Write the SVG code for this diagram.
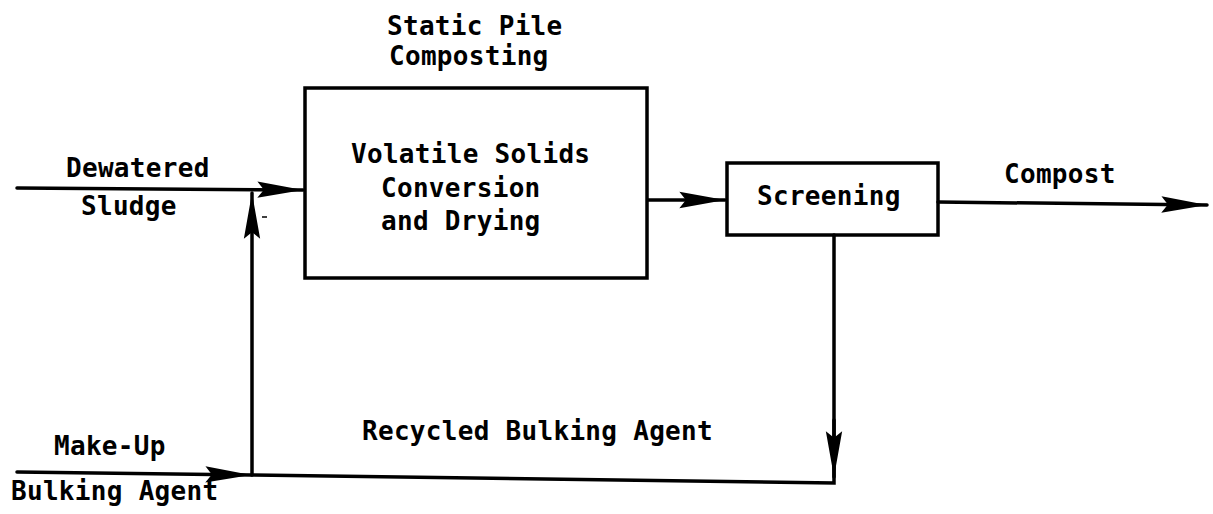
<svg xmlns="http://www.w3.org/2000/svg" width="1213" height="514" viewBox="0 0 1213 514">
<style>
  .t{font-family:"DejaVu Sans Mono","Liberation Mono",monospace;font-size:26px;font-weight:bold;letter-spacing:0.3px;fill:#000}
  .box{fill:#fff;stroke:#000;stroke-width:3.5}
  .ln{fill:none;stroke:#000;stroke-width:3.5;stroke-linecap:round}
</style>
<defs>
  <marker id="ah" markerUnits="userSpaceOnUse" markerWidth="50" markerHeight="22" viewBox="-44 -10 46 20" refX="0" refY="0" orient="auto">
    <path d="M0,0 L-42,-7.5 L-36,0 L-42,7.5 Z" fill="#000"/>
  </marker>
</defs>
<rect width="1213" height="514" fill="#fff"/>
<g id="title">
  <text class="t" x="387" y="35">Static Pile</text>
  <text class="t" x="389" y="65">Composting</text>
</g>
<g id="composting">
  <rect class="box" x="305" y="88" width="342" height="190"/>
  <text class="t" x="351" y="163">Volatile Solids</text>
  <text class="t" x="381" y="197">Conversion</text>
  <text class="t" x="381" y="230">and Drying</text>
</g>
<g id="screening">
  <rect class="box" x="727" y="163" width="211" height="72"/>
  <text class="t" x="757" y="205">Screening</text>
</g>
<g id="labels">
  <text class="t" x="66" y="177">Dewatered</text>
  <text class="t" x="81" y="215">Sludge</text>
  <text class="t" x="1004" y="183">Compost</text>
  <text class="t" x="54" y="455">Make-Up</text>
  <text class="t" x="11" y="500">Bulking Agent</text>
  <text class="t" x="362" y="440">Recycled Bulking Agent</text>
</g>
<g id="connectors">
  <line class="ln" x1="17" y1="188" x2="303" y2="190" marker-end="url(#ah)"/>
  <line class="ln" x1="648" y1="200" x2="725" y2="200" marker-end="url(#ah)"/>
  <line class="ln" x1="938" y1="202" x2="1207" y2="205" marker-end="url(#ah)"/>
  <line class="ln" x1="17" y1="472" x2="251" y2="475" marker-end="url(#ah)"/>
  <line class="ln" x1="252" y1="475" x2="252" y2="193" marker-end="url(#ah)"/>
  <polyline class="ln" points="252,475 834,483 834,235"/>
  <line class="ln" x1="834" y1="420" x2="834" y2="477" marker-end="url(#ah)"/>
  <line x1="262" y1="217" x2="267" y2="217" stroke="#000" stroke-width="1.5"/>
</g>
</svg>
